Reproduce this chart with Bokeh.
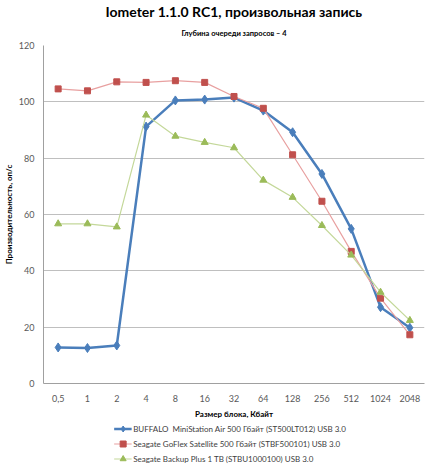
from bokeh.plotting import figure
from bokeh.layouts import column
from bokeh.models import FactorRange, Range1d, Legend, LegendItem, Title, SingleIntervalTicker
from bokeh.embed import file_html
from bokeh.resources import INLINE

block_sizes = ["0,5", "1", "2", "4", "8", "16", "32", "64", "128", "256", "512", "1024", "2048"]
buffalo = [12.8, 12.6, 13.5, 91.2, 100.5, 100.8, 101.5, 96.9, 89.2, 74.4, 54.9, 27.1, 19.8]
goflex = [104.6, 103.9, 107.1, 106.9, 107.5, 106.9, 101.9, 97.7, 81.2, 64.7, 46.9, 30.3, 17.3]
backup = [56.7, 56.7, 55.6, 95.3, 87.8, 85.6, 83.7, 72.2, 66.1, 56.1, 45.6, 32.4, 22.4]

names = [
    "BUFFALO  MiniStation Air 500 Гбайт (ST500LT012) USB 3.0",
    "Seagate GoFlex Satellite 500 Гбайт (STBF500101) USB 3.0",
    "Seagate Backup Plus 1 TB (STBU1000100) USB 3.0",
]

FONT = "Lato"
styles = [
    dict(line_color="#4A7EBB", line_width=2.5, marker="diamond", size=9, mcolor="#4A7EBB"),
    dict(line_color="#E8A0A0", line_width=1.2, marker="square", size=6, mcolor="#C0504D"),
    dict(line_color="#C4D89A", line_width=1.2, marker="triangle", size=7, mcolor="#9BBB59"),
]
series = [buffalo, goflex, backup]

p = figure(
    frame_width=381, frame_height=338,
    x_range=FactorRange(*block_sizes, range_padding=0),
    y_range=Range1d(0, 120),
    output_backend="svg", toolbar_location=None, title=None,
    min_border_left=0, min_border_right=2, min_border_top=36, min_border_bottom=0,
)
p.outline_line_color = None
p.background_fill_color = "white"
p.border_fill_color = "white"

p.add_layout(Title(text="Глубина очереди запросов – 4", align="center",
                   text_font_size="7.5px", text_font_style="bold", text_font=FONT,
                   text_color="#000000", standoff=15), "above")
p.add_layout(Title(text="Iometer 1.1.0 RC1, произвольная запись", align="center",
                   text_font_size="14px", text_font_style="bold", text_font=FONT,
                   text_color="#000000", standoff=0), "above")

p.yaxis.ticker = SingleIntervalTicker(interval=20)
p.ygrid.grid_line_color = "#BFBFBF"
p.xgrid.grid_line_color = None
for ax in (p.xaxis, p.yaxis):
    ax.axis_line_color = "#A0A0A0"
    ax.major_tick_line_color = None
    ax.minor_tick_line_color = None
    ax.major_label_text_font = FONT
    ax.major_label_text_font_size = "9px"
    ax.major_label_text_color = "#595959"
    ax.axis_label_text_font = FONT
    ax.axis_label_text_font_size = "8px"
    ax.axis_label_text_font_style = "bold"
    ax.axis_label_text_color = "#000000"
p.yaxis.axis_label = "Производительность, оп/с"
p.xaxis.axis_label = "Размер блока, Кбайт"
p.yaxis.axis_label_standoff = 2
p.xaxis.axis_label_standoff = 4
p.yaxis.major_label_standoff = 3
p.xaxis.major_label_standoff = 5

for vals, st in zip(series, styles):
    p.line(block_sizes, vals, line_color=st["line_color"], line_width=st["line_width"])
    p.scatter(block_sizes, vals, marker=st["marker"], size=st["size"],
              fill_color=st["mcolor"], line_color=st["mcolor"])

# legend panel: same series drawn off-view so only legend glyphs show
lg = figure(
    width=418, height=45,
    x_range=FactorRange(*block_sizes, range_padding=0),
    y_range=Range1d(500, 600),
    output_backend="svg", toolbar_location=None, title=None,
    min_border=0,
)
lg.axis.visible = False
lg.grid.visible = False
lg.outline_line_color = None
items = []
for vals, st, name in zip(series, styles, names):
    r1 = lg.line(block_sizes, vals, line_color=st["line_color"], line_width=st["line_width"])
    r2 = lg.scatter(block_sizes, vals, marker=st["marker"], size=st["size"],
                    fill_color=st["mcolor"], line_color=st["mcolor"])
    items.append(LegendItem(label=name, renderers=[r1, r2]))
legend = Legend(items=items, location="bottom_center", orientation="vertical")
legend.label_text_font = FONT
legend.label_text_font_size = "8px"
legend.label_text_color = "#404040"
legend.border_line_color = None
legend.background_fill_alpha = 0
legend.glyph_width = 18
legend.glyph_height = 15
legend.label_height = 15
legend.spacing = 0
legend.padding = 0
legend.margin = 0
legend.label_standoff = 2
lg.add_layout(legend)

layout = column(p, lg, spacing=0)
open("out.html", "w").write(file_html(layout, INLINE))
